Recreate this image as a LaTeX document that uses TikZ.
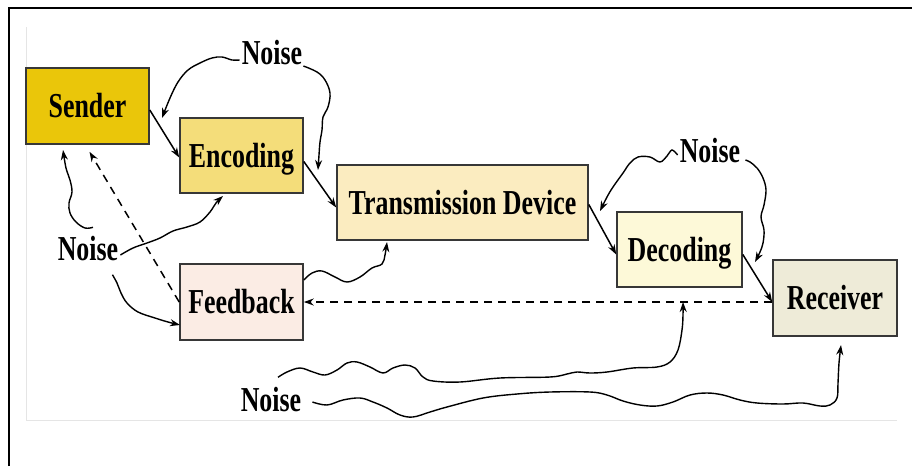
\documentclass[tikz,border=0pt]{standalone}
\usepackage{fontspec}
\usetikzlibrary{arrows.meta}
\newfontfamily\lblfont[FakeStretch=0.74]{Liberation Serif}

\definecolor{senderfill}{RGB}{234,198,10}
\definecolor{encodefill}{RGB}{244,221,122}
\definecolor{transfill}{RGB}{251,236,192}
\definecolor{decodefill}{RGB}{253,249,216}
\definecolor{recvfill}{RGB}{238,235,216}
\definecolor{fbfill}{RGB}{251,236,228}
\definecolor{boxline}{RGB}{55,55,55}

\tikzset{
  lbl/.style={font=\lblfont\bfseries\fontsize{35}{35}\selectfont,
    text height=23pt, text depth=0pt, inner sep=0pt},
  stagebox/.style={lbl, draw=boxline, line width=1.6pt},
  flow/.style={line width=1.5pt, -{Stealth[length=10pt,width=7pt]}},
  noiseline/.style={line width=1.4pt, -{Stealth[length=10pt,width=7pt]}},
}

\begin{document}
\begin{tikzpicture}[x=1pt,y=-1pt]
  \useasboundingbox (0,0) rectangle (912,466);
  \fill[white] (0,0) rectangle (912,466);
  % outer frame and inner panel
  \draw[line width=2pt, black] (9,466) -- (9,8) -- (912,8);
  \draw[black!10, line width=1pt] (26,27) -- (26,420) -- (897,420);

  % stages
  \node[stagebox, fill=senderfill, minimum width=123pt, minimum height=76pt] (sender) at (87.5,106) {Sender};
  \node[stagebox, fill=encodefill, minimum width=123pt, minimum height=75pt] (enc) at (241.5,155.5) {Encoding};
  \node[stagebox, fill=transfill, minimum width=251pt, minimum height=75pt] (tx) at (462.5,202.5) {Transmission Device};
  \node[stagebox, fill=decodefill, minimum width=125pt, minimum height=75pt] (dec) at (679.5,249.5) {Decoding};
  \node[stagebox, fill=recvfill, minimum width=124pt, minimum height=76pt] (rec) at (835,298) {Receiver};
  \node[stagebox, fill=fbfill, minimum width=123pt, minimum height=76pt] (fb) at (241.5,302) {Feedback};

  % noise labels
  \node[lbl] (nTop) at (272,53) {Noise};
  \node[lbl] (nRight) at (710,151) {Noise};
  \node[lbl] (nLeft) at (88,249) {Noise};
  \node[lbl] (nBottom) at (271,400) {Noise};

  % main flow
  \draw[flow] ([yshift=-4pt]sender.east) -- ([yshift=-2pt]enc.west);
  \draw[flow] ([yshift=-6pt]enc.east) -- ([yshift=-5pt]tx.west);
  \draw[flow] ([yshift=-2pt]tx.east) -- ([yshift=-5pt]dec.west);
  \draw[flow] ([yshift=-5pt]dec.east) -- ([yshift=-4pt]rec.west);

  % feedback loop
  \draw[flow, dashed, dash pattern=on 8pt off 6pt] (fb.east -| rec.west) -- (fb.east);
  \draw[flow, dashed, dash pattern=on 8pt off 6pt] (fb.west) -- ([xshift=2pt,yshift=-7pt]sender.south);

  % noise interfering with each stage
  \draw[noiseline] plot[smooth, tension=0.6] coordinates {
    ([xshift=-2pt,yshift=-7pt]nTop.west) (232,60) (222,57) (212,58) (200,63)
    (188,70) (178,82) (170,98) (162,118)};
  \draw[noiseline] plot[smooth, tension=0.6] coordinates {
    ([xshift=1pt,yshift=-13pt]nTop.east) (317,72) (325,80) (330,93) (328,107)
    (323,117) (322,130) (320,142) (319,155) (318,170)};
  \draw[noiseline] plot[smooth, tension=0.6] coordinates {
    ([xshift=-2pt,yshift=-4pt]nRight.west) (672,150) (667,156) (660,162) (650,157)
    (638,157) (630,163) (623,173) (613,187) (607,197) (600,211)};
  \draw[noiseline] plot[smooth, tension=0.6] coordinates {
    ([xshift=5pt,yshift=-9pt]nRight.east) (750,162) (757,168) (763,178) (766,190)
    (764,205) (761,217) (764,230) (763,243) (760,252) (755,262)};
  \draw[noiseline] plot[smooth, tension=0.6] coordinates {
    ([xshift=5pt,yshift=10pt]nLeft.north) (85,228) (76,222) (70,213) (69,203)
    (72,192) (70,180) (66,168) (63,150)};
  \draw[noiseline] plot[smooth, tension=0.6] coordinates {
    ([xshift=2pt,yshift=-6pt]nLeft.east) (133,248) (147,243) (160,238) (173,231)
    (187,227) (200,222) (210,212) (216,203) (223,196)};
  \draw[noiseline] plot[smooth, tension=0.6] coordinates {
    ([xshift=-6pt,yshift=-14pt]nLeft.south east) (117,283) (121,293) (127,303)
    (138,312) (155,318) (168,322) (180,325)};
  \draw[noiseline] plot[smooth, tension=0.6] coordinates {
    ([yshift=22pt]fb.east) (312,273) (322,271) (335,277) (347,282) (360,277)
    (372,268) (382,264) (385,255) (387,242)};
  \draw[noiseline] plot[smooth, tension=0.6] coordinates {
    ([xshift=7pt,yshift=11pt]nBottom.north) (287,372) (300,368) (313,372) (325,375)
    (337,370) (347,363) (357,362) (370,367) (383,373) (393,368) (405,365)
    (415,368) (423,377) (433,381) (460,382) (500,378) (550,377) (567,374)
    (577,372) (590,373) (607,372) (633,368) (657,367) (670,362) (678,350)
    (682,330) (683,315) (683,302)};
  \draw[noiseline] plot[smooth, tension=0.6] coordinates {
    ([xshift=11pt,yshift=-2pt]nBottom.east) (327,405) (343,400) (360,398) (373,402)
    (387,408) (400,415) (413,417) (430,412) (447,407) (483,398) (517,394)
    (550,392) (590,392) (607,395) (623,401) (640,405) (657,406) (673,402)
    (690,395) (707,393) (723,395) (740,400) (757,403) (783,404) (803,403)
    (820,406) (830,405) (837,398) (838,383) (839,363) (841,345)};
\end{tikzpicture}
\end{document}
